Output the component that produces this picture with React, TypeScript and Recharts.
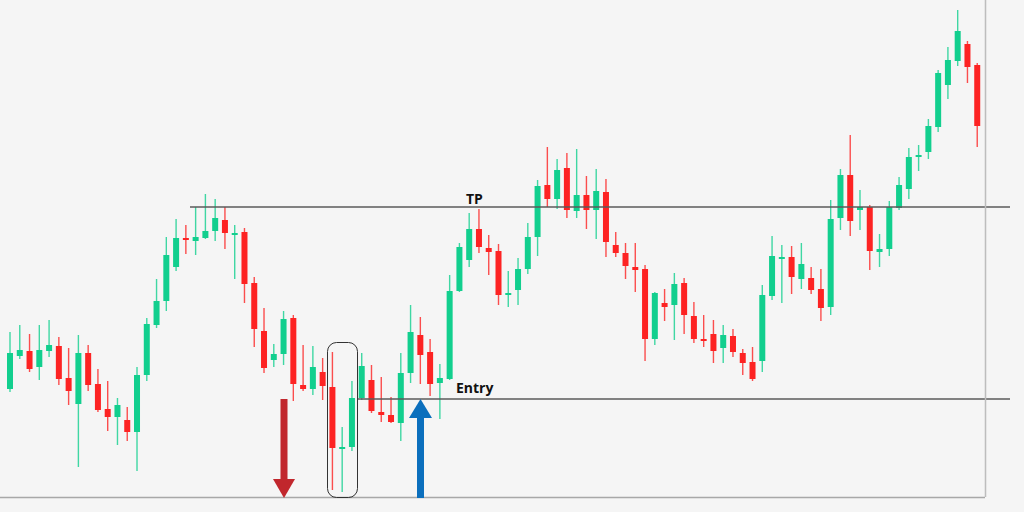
import { Bar, ComposedChart, ReferenceLine, XAxis, YAxis } from "recharts"

// candle prices (1 unit = 1px, higher = up)
const openPrices = [
  111, 144, 149, 133, 149, 154, 122, 96, 147, 116, 91, 83, 80, 68, 125, 175, 199, 233, 262, 259,
  262, 269, 280, 265, 268, 217, 169, 140, 146, 182, 115, 111, 128, 113, 52, 53, 102, 120, 88, 85,
  77, 127, 165, 148, 117, 121, 209, 240, 271, 252, 249, 205, 210, 231, 263, 315, 301, 332, 289, 305,
  290, 308, 255, 247, 233, 231, 161, 197, 195, 217, 184, 161, 166, 152, 164, 147, 138, 139, 204, 242,
  243, 221, 222, 211, 193, 282, 325, 290, 293, 248, 251, 292, 311, 343, 348, 373, 415, 439, 456, 435,
]
const highPrices = [
  168, 175, 166, 175, 180, 163, 152, 165, 155, 131, 119, 102, 93, 133, 182, 221, 263, 281, 275, 293,
  306, 301, 293, 275, 272, 223, 192, 156, 189, 185, 155, 154, 142, 148, 73, 119, 147, 135, 123, 103,
  147, 195, 183, 161, 136, 225, 257, 287, 291, 265, 256, 229, 242, 277, 320, 353, 341, 347, 351, 324,
  331, 321, 268, 257, 257, 235, 208, 211, 227, 222, 198, 185, 180, 175, 171, 151, 153, 215, 264, 255,
  254, 257, 233, 231, 300, 331, 365, 310, 295, 266, 299, 323, 352, 355, 381, 430, 453, 490, 459, 437,
]
const lowPrices = [
  108, 141, 128, 120, 143, 115, 95, 33, 109, 88, 69, 55, 59, 29, 119, 172, 189, 229, 246, 245,
  261, 259, 251, 221, 197, 153, 127, 133, 135, 99, 109, 105, 100, 10, 8, 49, 100, 87, 78, 77,
  59, 117, 116, 104, 81, 120, 208, 233, 247, 225, 195, 193, 195, 226, 244, 293, 291, 282, 282, 271,
  261, 243, 243, 221, 208, 139, 155, 179, 160, 166, 157, 153, 137, 137, 143, 125, 119, 128, 200, 197,
  206, 211, 206, 179, 185, 270, 264, 270, 230, 233, 244, 290, 301, 329, 341, 368, 401, 434, 417, 353,
]
const closePrices = [
  147, 150, 131, 150, 155, 121, 109, 147, 115, 90, 83, 95, 68, 125, 176, 199, 245, 262, 260, 263,
  269, 282, 267, 267, 216, 171, 132, 146, 181, 116, 111, 133, 114, 52, 53, 102, 134, 89, 85, 78,
  127, 168, 145, 116, 122, 209, 253, 271, 253, 248, 205, 207, 231, 263, 314, 301, 330, 290, 305, 290,
  309, 258, 247, 234, 230, 161, 207, 193, 216, 185, 161, 159, 149, 165, 148, 137, 121, 205, 244, 243,
  223, 236, 210, 192, 281, 325, 279, 293, 249, 251, 293, 315, 343, 345, 374, 427, 440, 469, 433, 374,
]

const TP_LEVEL = 293
const ENTRY_LEVEL = 101

const UP = '#12cf8e'
const DOWN = '#fd2323'

const data = openPrices.map((open, i) => ({
  idx: i + 1,
  open,
  high: highPrices[i],
  low: lowPrices[i],
  close: closePrices[i],
}))

const Candle = (props: any) => {
  const { x, y, width, height, payload } = props
  const { open, close, high, low } = payload
  const top = Math.min(y, y + height)
  const span = Math.abs(height)
  const toY = (p: number) => top + ((high - p) / (high - low)) * span
  const color = close >= open ? UP : DOWN
  const cx = x + width / 2
  const bTop = toY(Math.max(open, close))
  const bH = Math.max(2, toY(Math.min(open, close)) - bTop)
  return (
    <g>
      <line x1={cx} x2={cx} y1={top} y2={top + span} stroke={color} strokeWidth={1.4} strokeOpacity={0.8} />
      <rect x={x} y={bTop} width={width} height={bH} fill={color} />
    </g>
  )
}

const levelShape = (label: string, startX: number, textX: number, textY: number) => (p: any) => (
  <g>
    <line x1={startX} x2={1010} y1={p.y1} y2={p.y1} stroke="#5a5a5a" strokeWidth={1.3} />
    <text x={textX} y={p.y1 + textY} fontFamily="'Open Sans', sans-serif" fontWeight={700} fontSize={14} fill="#111">
      {label}
    </text>
  </g>
)

export default function App() {
  return (
    <div style={{ position: 'relative', width: 1024, height: 512, background: '#f5f5f5' }}>
      <style>{'body{margin:0;background:#f5f5f5}'}</style>
      <ComposedChart
        width={1024}
        height={512}
        data={data}
        margin={{ top: 0, right: 42, bottom: 15, left: 5 }}
      >
        <XAxis dataKey="idx" hide />
        <YAxis hide domain={[3, 500]} allowDataOverflow />
        <ReferenceLine y={TP_LEVEL} ifOverflow="visible" shape={levelShape('TP', 190, 466, -3)} />
        <ReferenceLine y={ENTRY_LEVEL} ifOverflow="visible" shape={levelShape('Entry', 358, 456, -6)} />
        <Bar
          dataKey={(d: any) => [d.low, d.high]}
          barSize={6}
          shape={<Candle />}
          isAnimationActive={false}
        />
      </ComposedChart>
      <svg width={1024} height={512} style={{ position: 'absolute', left: 0, top: 0, pointerEvents: 'none' }}>
        <line x1={0} x2={985} y1={497.5} y2={497.5} stroke="#a8a8a8" strokeWidth={1.5} />
        <line x1={985.5} x2={985.5} y1={0} y2={497} stroke="#bdbdbd" strokeWidth={1.5} />
        <rect x={327.5} y={342.5} width={30} height={155} rx={9} fill="none" stroke="#333" strokeWidth={1} />
        {/* red down arrow */}
        <rect x={280.5} y={399} width={7} height={80} fill="#c1272d" />
        <polygon points="273,479 295,479 284,498" fill="#c1272d" />
        {/* blue up arrow */}
        <rect x={417} y={418} width={7} height={80} fill="#0b6fbd" />
        <polygon points="409,418 432,418 420.5,399" fill="#0b6fbd" />
      </svg>
    </div>
  )
}
